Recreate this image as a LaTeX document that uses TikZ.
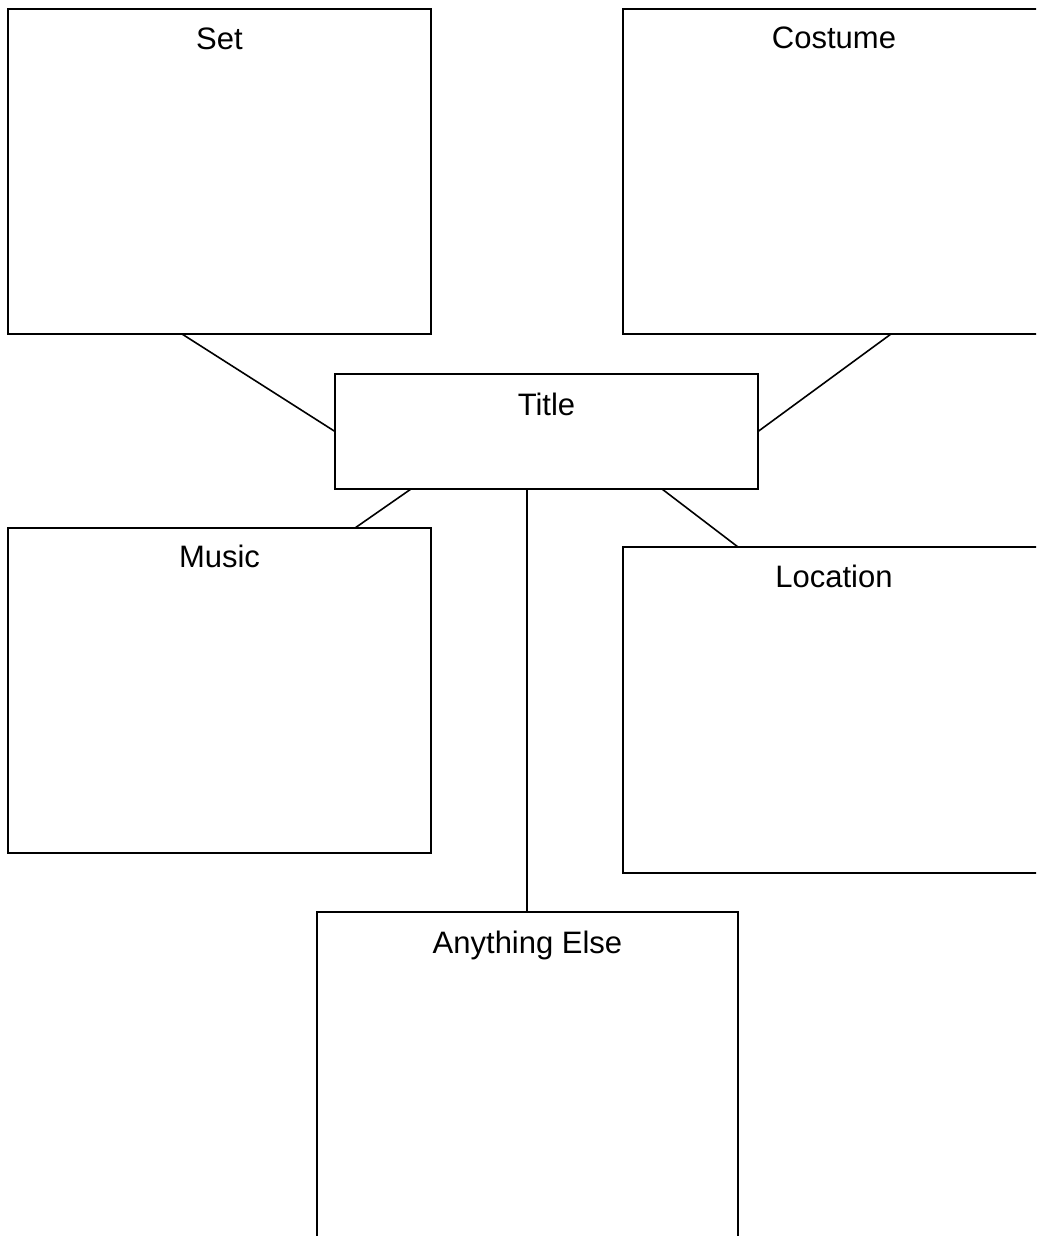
\documentclass[tikz,border=0pt]{standalone}
\usepackage{fontspec}
\setmainfont{Liberation Sans}
\begin{document}
\begin{tikzpicture}[x=1pt,y=-1pt,
  box/.style={draw=black,line width=1.6pt,rectangle,inner sep=0pt,outer sep=0pt},
  lbl/.style={anchor=base,inner sep=0pt,font=\fontsize{31}{37}\selectfont},
  conn/.style={draw=black,line width=1.6pt}]
\path[use as bounding box] (0,0) rectangle (1036,1236);
\clip (0,0) rectangle (1036,1236);
\fill[white] (0,0) rectangle (1036,1236);
% boxes
\node[box,minimum width=423pt,minimum height=325pt] (set) at (219.5,171.5) {};
\node[box,minimum width=422pt,minimum height=325pt] (costume) at (834,171.5) {};
\node[box,minimum width=423pt,minimum height=115pt] (title) at (546.5,431.5) {};
\node[box,minimum width=423pt,minimum height=325pt] (music) at (219.5,690.5) {};
\node[box,minimum width=422pt,minimum height=326pt] (location) at (834,710) {};
\node[box,minimum width=421pt,minimum height=330pt] (anything) at (527.5,1077) {};
% labels
\node[lbl] (settext) at ([yshift=-41pt]set.north) {Set};
\node[lbl] (costumetext) at ([yshift=-40pt]costume.north) {Costume};
\node[lbl] (titletext) at ([yshift=-41pt]title.north) {Title};
\node[lbl] (musictext) at ([yshift=-39pt]music.north) {Music};
\node[lbl] (locationtext) at ([yshift=-40pt]location.north) {Location};
\node[lbl] (anythingtext) at ([yshift=-41pt]anything.north) {Anything Else};
% connectors
\draw[conn] ([xshift=-37.5pt]set.south) -- (title.west);
\draw[conn] ([xshift=57pt]costume.south) -- (title.east);
\draw[conn] ([xshift=-135.5pt]title.south) -- ([xshift=135.5pt]music.north);
\draw[conn] ([xshift=-19.5pt]title.south) -- ([xshift=-0.5pt]anything.north);
\draw[conn] ([xshift=115.5pt]title.south) -- ([xshift=-96pt]location.north);
\end{tikzpicture}
\end{document}
